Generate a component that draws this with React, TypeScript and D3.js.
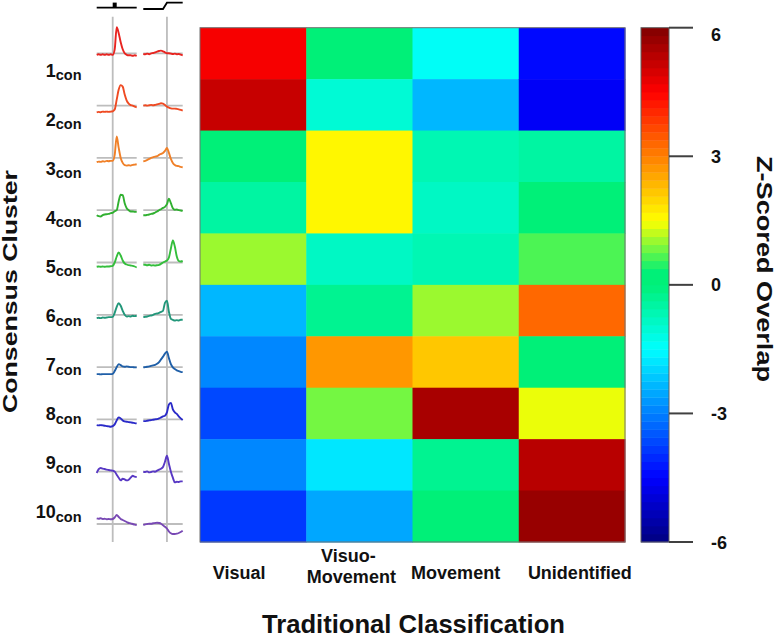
import React from 'react';
import * as d3 from 'd3';

// ---------- data ----------
const categories = ['Visual', 'Visuo-Movement', 'Movement', 'Unidentified'];
const categoryLines = [['Visual'], ['Visuo-', 'Movement'], ['Movement'], ['Unidentified']];
const clusters = ['1', '2', '3', '4', '5', '6', '7', '8', '9', '10'];

// z-scored overlap per traditional class, one value per consensus cluster
const visualZ = [4.6, 5.2, 0.0, -0.5, 1.0, -2.3, -2.9, -3.6, -2.9, -3.8];
const visuoMovementZ = [0.0, -1.1, 1.6, 1.5, -0.9, -0.2, 2.7, 0.9, -1.7, -2.5];
const movementZ = [-1.5, -2.4, -0.6, -0.8, -0.7, 1.1, 2.1, 5.6, -0.3, 0.0];
const unidentifiedZ = [-4.4, -4.6, -0.5, 0.1, 0.6, 3.2, 0.0, 1.4, 5.3, 5.75];
const zByCategory = [visualZ, visuoMovementZ, movementZ, unidentifiedZ];

const colorbarTicks = [6, 3, 0, -3, -6];

// mean responses (normalized units), stimulus-aligned and saccade-aligned
const stimTimes = [-200, -175, -150, -125, -100, -75, -50, -25, 0, 25, 50, 75, 100, 125, 150, 175, 200, 225, 250, 275, 300];
const saccTimes = [-300, -275, -250, -225, -200, -175, -150, -125, -100, -75, -50, -25, 0, 25, 50, 75, 100, 125, 150, 175, 200];

const stimAligned = [
  [-1.5, -1, -1.5, -1, -1.5, -1, -1.5, -1, -1.5, 4, 26, 20, 11, 4, 0, -1.5, -2, -2, -2.5, -2, -2.5],
  [-6.7, -6.3, -6.7, -6, -6.3, -6, -6.3, -6, -5.7, -4, 6, 16, 20.5, 19, 11, 5, 2, 0.5, 0, -1, -1.7],
  [-4.3, -3.7, -4, -3.3, -3.7, -3, -3.3, -3, -3, 3, 21.5, 10, 0, -5, -7.3, -7.7, -7.3, -7.7, -7, -6.7, -6.3],
  [-5, -6, -6.3, -5, -4.3, -4, -3.7, -3, -2.7, -1, 0, 9, 15.5, 15, 7, 2, 0, -1.3, -1.3, -1.7, -1.7],
  [-4.3, -4, -4.3, -4, -4.3, -4, -4, -3.7, -3.3, 0, 6, 10, 7, 2, -1, -2, -2.7, -3, -3.3, -4, -5],
  [-3.3, -3, -3.3, -2.7, -3, -2.7, -2.3, -2.3, -2, 2, 8, 11.5, 9, 4, 0, -1.7, -1.3, -1.7, -1, -1.3, -1],
  [-7, -7, -7.3, -7, -7, -7, -7, -7, -6.7, -4, 0, 3, 2, 0.7, 0.3, 0.7, 0.3, 0, 0, -0.3, -0.3],
  [-5.7, -6, -5.7, -6, -6.3, -6.7, -7, -7.3, -6.7, -5, -1, 2, 1, -1, -2, -2.3, -2.7, -3, -3.3, -3.7, -4],
  [-1.3, 2.5, 3.7, 3, 2.7, 2, 1.7, 1.3, 1, 0, -3, -6, -8.7, -7, -7.7, -8.7, -8, -6, -4, -5, -5.3],
  [5.7, 5.3, 5.7, 5, 5.3, 4.7, 5, 4.7, 5, 6.5, 9, 7, 5, 4, 3, 2, 1, 0.7, 0, -0.7, -1],
];

const saccAligned = [
  [-0.7, -1, -0.3, -1, 0, 0.3, 1, 1.7, 2.3, 2.7, 2, 1, 0, 0, -0.3, -0.7, -0.3, -1, -0.7, -1.3, -2],
  [0, 0.3, 0, 0.3, 0.7, 0.3, 0.7, 1.3, 1.7, 2.3, 2, 0.5, -1, -2, -2.7, -3, -3, -3.3, -3.7, -4.3, -5],
  [-3.3, -3, -2, -1, 0, 0.7, 1.3, 1.7, 3, 4, 5, 7, 10, 5, -1, -5, -7, -8, -8.3, -9, -9.3],
  [-5, -5, -4.7, -4.3, -3.7, -3.3, -2.3, -1.3, 0, 1, 2.3, 3.3, 6, 11.5, 7, 2, 0.5, 0.7, 0, -0.3, -0.7],
  [-2, -2.3, -2.7, -2.3, -3, -2.7, -3, -2.7, -2.3, -1.3, 0, 1, 2, 5, 14, 22, 16, 6, 1.5, 1, 1.5],
  [-2.3, -2, -1.7, -1, -0.7, 0, 1, 1.3, 2, 3, 4, 12, 14, 3, -4, -5, -5.7, -5.3, -5.7, -5, -5],
  [-0.3, 0, 0.3, 0.7, 1.3, 1.7, 2.3, 3.3, 5, 7.7, 10.5, 13.5, 15.5, 9, 3, -0.3, -2, -3.3, -4, -4.7, -5],
  [-1.7, -1.7, -1.3, -1, -0.7, -0.3, 0, 0.3, 1, 2, 3, 3.7, 7, 15, 16.5, 10, 7, 5.5, 3, 1, -0.7],
  [0, -0.3, 0.3, -0.7, -0.3, 0.3, 0, 1, 2, 3, 4.7, 10, 16, 8, 0, -6, -10.7, -10, -10.3, -9.7, -9.7],
  [-1, -0.3, 0, 0.3, 0.3, 0.7, 1, 1.3, 1, 0.3, -1.3, -2.7, -4.5, -7.5, -9.3, -10, -10, -9.7, -9, -8, -6.7],
];

// ---------- styles / layout ----------
const clusterColors = ['#e82420', '#ef4a22', '#f08028', '#30b030', '#34be3c', '#22977a', '#1f5fa8', '#2a2ac8', '#5838c4', '#7848b4'];
const FONT = '"Liberation Sans", Arial, Helvetica, sans-serif';
const labelDx = [-14, -8, -10, 8];

const W = 775;
const H = 640;

// colormap (jet-like, 64 discrete levels)
const cmapStops = [-6, -4.5, -1.5, 0, 0.3, 1.5, 4.5, 6];
const cmapColors = ['#000080', '#0000ff', '#00ffff', '#00f078', '#00f078', '#ffff00', '#ff0000', '#800000'];
const cmap = d3.scaleLinear<string>().domain(cmapStops).range(cmapColors).interpolate(d3.interpolateRgb).clamp(true);
const NLEV = 64;
const levelOf = (v: number) => Math.max(0, Math.min(NLEV - 1, Math.floor(((v + 6) / 12) * NLEV)));
const levelValue = (k: number) => -6 + ((k + 0.5) * 12) / NLEV;
const colorOf = (v: number) => cmap(levelValue(levelOf(v)));

export default function App() {
  const x = d3.scaleBand<string>().domain(categories).range([200, 625]);
  const y = d3.scaleBand<string>().domain(clusters).range([27.7, 542]);
  const cY = d3.scaleLinear().domain([-6, 6]).range([542, 27.7]);
  const cbLeft = 641;
  const cbRight = 669;

  const traceBase = d3.scalePoint<string>().domain(clusters).range([53.3, 524]);
  const labelBase = d3.scalePoint<string>().domain(clusters).range([76.7, 518.3]);
  const lx = d3.scaleLinear().domain([-200, 300]).range([96.7, 136.7]);
  const rx = d3.scaleLinear().domain([-300, 200]).range([143.3, 182.7]);
  const amp = d3.scaleLinear().domain([0, 10]).range([0, -10]);

  const levels = d3.range(NLEV);

  return (
    <svg width={W} height={H} style={{ position: 'absolute', left: 0, top: 0, background: '#fff' }} fontFamily={FONT}>
      <rect x={0} y={0} width={W} height={H} fill="#fff" />

      {/* heatmap cells */}
      {categories.map((cat, ci) =>
        clusters.map((cl, ri) => (
          <rect
            key={cat + cl}
            x={x(cat)}
            y={y(cl)}
            width={x.bandwidth() + 0.5}
            height={y.bandwidth() + 0.5}
            fill={colorOf(zByCategory[ci][ri])}
          />
        ))
      )}
      <rect x={200} y={27.7} width={425} height={542 - 27.7} fill="none" stroke="#707070" strokeWidth={1} />

      {/* colorbar */}
      {levels.map((k) => {
        const v0 = -6 + (k * 12) / NLEV;
        const v1 = -6 + ((k + 1) * 12) / NLEV;
        return (
          <rect key={k} x={cbLeft} y={cY(v1)} width={cbRight - cbLeft} height={cY(v0) - cY(v1) + 0.4} fill={cmap(levelValue(k))} />
        );
      })}
      <rect x={cbLeft} y={27.7} width={cbRight - cbLeft} height={542 - 27.7} fill="none" stroke="#606060" strokeWidth={1} />
      {colorbarTicks.map((t) => (
        <g key={t}>
          <line x1={cbRight} x2={cbRight + 24} y1={cY(t)} y2={cY(t)} stroke="#404040" strokeWidth={2} />
          <text x={711} y={Math.max(cY(t), 34.5) + 6.5} fontSize={18} fontWeight="bold" fill="#111">
            {t}
          </text>
        </g>
      ))}
      <text
        transform={`translate(756.5,${269}) rotate(90)`}
        textAnchor="middle"
        fontSize={22}
        fontWeight="bold"
        fill="#111"
        textLength={226}
        lengthAdjust="spacingAndGlyphs"
      >
        Z-Scored Overlap
      </text>

      {/* column labels */}
      {categoryLines.map((lines, ci) => {
        const cx = (x(categories[ci]) as number) + x.bandwidth() / 2 + labelDx[ci];
        return lines.length === 1 ? (
          <text key={ci} x={cx} y={579} textAnchor="middle" fontSize={18} fontWeight="bold" fill="#111">
            {lines[0]}
          </text>
        ) : (
          <g key={ci}>
            <text x={cx - 3} y={562} textAnchor="middle" fontSize={18} fontWeight="bold" fill="#111">
              {lines[0]}
            </text>
            <text x={cx} y={583} textAnchor="middle" fontSize={18} fontWeight="bold" fill="#111">
              {lines[1]}
            </text>
          </g>
        );
      })}
      <text x={413.5} y={633} textAnchor="middle" fontSize={25} fontWeight="bold" fill="#111" textLength={303} lengthAdjust="spacingAndGlyphs">
        Traditional Classification
      </text>

      {/* y-axis title */}
      <text
        transform={`translate(16.5,${291.5}) rotate(-90)`}
        textAnchor="middle"
        fontSize={20}
        fontWeight="bold"
        fill="#111"
        textLength={243}
        lengthAdjust="spacingAndGlyphs"
      >
        Consensus Cluster
      </text>

      {/* row labels */}
      {clusters.map((cl) => (
        <text key={cl} x={81.5} y={labelBase(cl)} textAnchor="end" fontWeight="bold" fill="#111">
          <tspan fontSize={18}>{cl}</tspan>
          <tspan fontSize={14.5} dy={3.5}>
            con
          </tspan>
        </text>
      ))}

      {/* event icons */}
      <line x1={lx(-200)} x2={lx(300)} y1={7.7} y2={7.7} stroke="#000" strokeWidth={1.8} />
      <rect x={lx(0)} y={2.6} width={lx(50) - lx(0)} height={5.1} fill="#000" />
      <path
        d={`M${rx(-300)},9 L${rx(-50)},9 L${rx(0)},2.7 L${rx(200)},2.7`}
        fill="none"
        stroke="#000"
        strokeWidth={1.8}
      />

      {/* event lines */}
      <line x1={lx(0)} x2={lx(0)} y1={16.7} y2={542} stroke="#bdbdbd" strokeWidth={1.8} />
      <line x1={rx(0)} x2={rx(0)} y1={16.7} y2={542} stroke="#bdbdbd" strokeWidth={1.8} />

      {/* traces */}
      {clusters.map((cl, i) => {
        const base = traceBase(cl) as number;
        const lineL = d3
          .line<number>()
          .x((_, j) => lx(stimTimes[j]))
          .y((d) => base + amp(d))
          .curve(d3.curveMonotoneX);
        const lineR = d3
          .line<number>()
          .x((_, j) => rx(saccTimes[j]))
          .y((d) => base + amp(d))
          .curve(d3.curveMonotoneX);
        return (
          <g key={cl}>
            <line x1={lx(-200)} x2={lx(300)} y1={base} y2={base} stroke="#bdbdbd" strokeWidth={1.8} />
            <line x1={rx(-300)} x2={rx(200)} y1={base} y2={base} stroke="#bdbdbd" strokeWidth={1.8} />
            <path d={lineL(stimAligned[i]) || ''} fill="none" stroke={clusterColors[i]} strokeWidth={1.9} strokeLinejoin="round" />
            <path d={lineR(saccAligned[i]) || ''} fill="none" stroke={clusterColors[i]} strokeWidth={1.9} strokeLinejoin="round" />
          </g>
        );
      })}
    </svg>
  );
}
